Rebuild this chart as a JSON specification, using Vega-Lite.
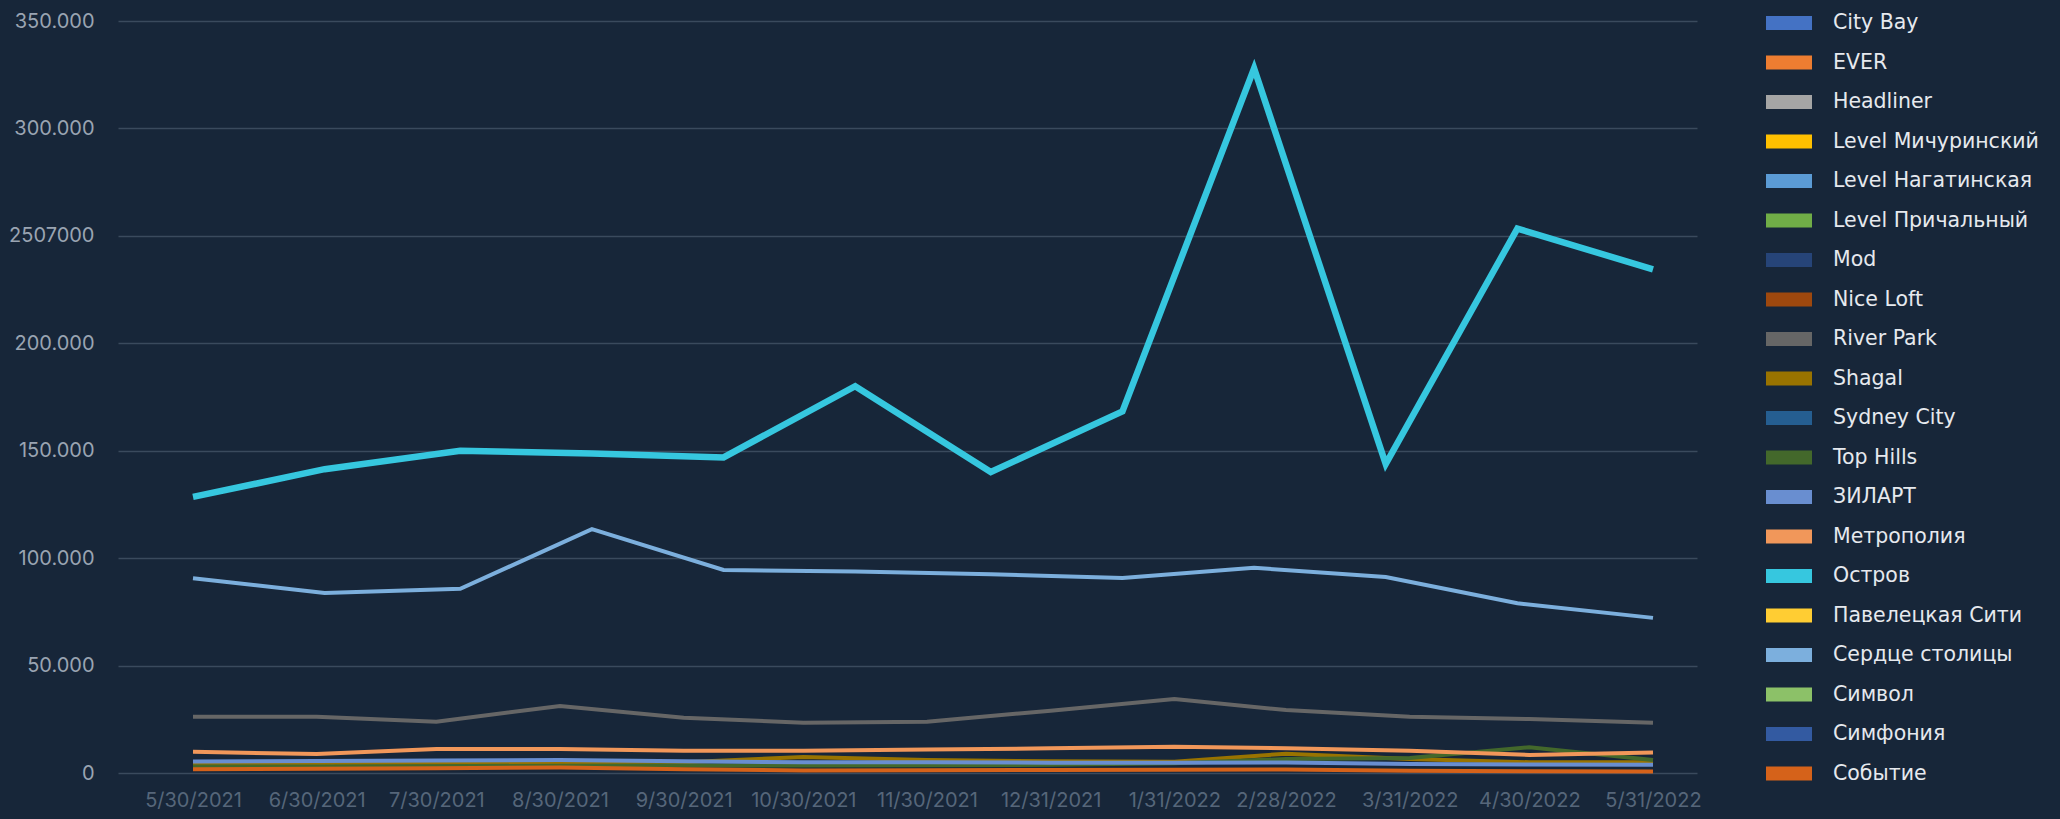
{
  "$schema": "https://vega.github.io/schema/vega-lite/v6.json",
  "autosize": {"type": "none"},
  "width": 1579,
  "height": 752,
  "padding": {"left": 118, "top": 21, "right": 363, "bottom": 46},
  "background": "#172639",
  "config": {
    "view": {"stroke": null},
    "font": "Inter"
  },
  "datasets": {
    "monthly": [
      {"series": "Shagal", "date": "2021-05-30", "value": 4500},
      {"series": "Shagal", "date": "2021-06-30", "value": 4600},
      {"series": "Shagal", "date": "2021-07-30", "value": 4800},
      {"series": "Shagal", "date": "2021-08-30", "value": 5000},
      {"series": "Shagal", "date": "2021-09-30", "value": 5000},
      {"series": "Shagal", "date": "2021-10-30", "value": 7500},
      {"series": "Shagal", "date": "2021-11-30", "value": 6000},
      {"series": "Shagal", "date": "2021-12-31", "value": 5500},
      {"series": "Shagal", "date": "2022-01-31", "value": 5200},
      {"series": "Shagal", "date": "2022-02-28", "value": 9000},
      {"series": "Shagal", "date": "2022-03-31", "value": 6500},
      {"series": "Shagal", "date": "2022-04-30", "value": 5000},
      {"series": "Shagal", "date": "2022-05-31", "value": 5000},
      {"series": "Top Hills", "date": "2021-05-30", "value": 3000},
      {"series": "Top Hills", "date": "2021-06-30", "value": 3000},
      {"series": "Top Hills", "date": "2021-07-30", "value": 3200},
      {"series": "Top Hills", "date": "2021-08-30", "value": 3400},
      {"series": "Top Hills", "date": "2021-09-30", "value": 3500},
      {"series": "Top Hills", "date": "2021-10-30", "value": 3500},
      {"series": "Top Hills", "date": "2021-11-30", "value": 3600},
      {"series": "Top Hills", "date": "2021-12-31", "value": 3800},
      {"series": "Top Hills", "date": "2022-01-31", "value": 4500},
      {"series": "Top Hills", "date": "2022-02-28", "value": 6500},
      {"series": "Top Hills", "date": "2022-03-31", "value": 7000},
      {"series": "Top Hills", "date": "2022-04-30", "value": 12000},
      {"series": "Top Hills", "date": "2022-05-31", "value": 6000},
      {"series": "ЗИЛАРТ", "date": "2021-05-30", "value": 5300},
      {"series": "ЗИЛАРТ", "date": "2021-06-30", "value": 5600},
      {"series": "ЗИЛАРТ", "date": "2021-07-30", "value": 5800},
      {"series": "ЗИЛАРТ", "date": "2021-08-30", "value": 6000},
      {"series": "ЗИЛАРТ", "date": "2021-09-30", "value": 5500},
      {"series": "ЗИЛАРТ", "date": "2021-10-30", "value": 5000},
      {"series": "ЗИЛАРТ", "date": "2021-11-30", "value": 5000},
      {"series": "ЗИЛАРТ", "date": "2021-12-31", "value": 4800},
      {"series": "ЗИЛАРТ", "date": "2022-01-31", "value": 4800},
      {"series": "ЗИЛАРТ", "date": "2022-02-28", "value": 4900},
      {"series": "ЗИЛАРТ", "date": "2022-03-31", "value": 4200},
      {"series": "ЗИЛАРТ", "date": "2022-04-30", "value": 4000},
      {"series": "ЗИЛАРТ", "date": "2022-05-31", "value": 3800},
      {"series": "Событие", "date": "2021-05-30", "value": 1800},
      {"series": "Событие", "date": "2021-06-30", "value": 2000},
      {"series": "Событие", "date": "2021-07-30", "value": 2200},
      {"series": "Событие", "date": "2021-08-30", "value": 2600},
      {"series": "Событие", "date": "2021-09-30", "value": 1800},
      {"series": "Событие", "date": "2021-10-30", "value": 1200},
      {"series": "Событие", "date": "2021-11-30", "value": 1300},
      {"series": "Событие", "date": "2021-12-31", "value": 1400},
      {"series": "Событие", "date": "2022-01-31", "value": 1500},
      {"series": "Событие", "date": "2022-02-28", "value": 1600},
      {"series": "Событие", "date": "2022-03-31", "value": 1000},
      {"series": "Событие", "date": "2022-04-30", "value": 800},
      {"series": "Событие", "date": "2022-05-31", "value": 700},
      {"series": "Метрополия", "date": "2021-05-30", "value": 9900},
      {"series": "Метрополия", "date": "2021-06-30", "value": 8800},
      {"series": "Метрополия", "date": "2021-07-30", "value": 11200},
      {"series": "Метрополия", "date": "2021-08-30", "value": 11200},
      {"series": "Метрополия", "date": "2021-09-30", "value": 10400},
      {"series": "Метрополия", "date": "2021-10-30", "value": 10400},
      {"series": "Метрополия", "date": "2021-11-30", "value": 10900},
      {"series": "Метрополия", "date": "2021-12-31", "value": 11500},
      {"series": "Метрополия", "date": "2022-01-31", "value": 12200},
      {"series": "Метрополия", "date": "2022-02-28", "value": 11500},
      {"series": "Метрополия", "date": "2022-03-31", "value": 10400},
      {"series": "Метрополия", "date": "2022-04-30", "value": 8400},
      {"series": "Метрополия", "date": "2022-05-31", "value": 9500},
      {"series": "River Park", "date": "2021-05-30", "value": 26200},
      {"series": "River Park", "date": "2021-06-30", "value": 26200},
      {"series": "River Park", "date": "2021-07-30", "value": 23900},
      {"series": "River Park", "date": "2021-08-30", "value": 31200},
      {"series": "River Park", "date": "2021-09-30", "value": 25700},
      {"series": "River Park", "date": "2021-10-30", "value": 23400},
      {"series": "River Park", "date": "2021-11-30", "value": 23900},
      {"series": "River Park", "date": "2021-12-31", "value": 29000},
      {"series": "River Park", "date": "2022-01-31", "value": 34400},
      {"series": "River Park", "date": "2022-02-28", "value": 29300},
      {"series": "River Park", "date": "2022-03-31", "value": 26200},
      {"series": "River Park", "date": "2022-04-30", "value": 25100},
      {"series": "River Park", "date": "2022-05-31", "value": 23400},
      {"series": "Сердце столицы", "date": "2021-05-30", "value": 90600},
      {"series": "Сердце столицы", "date": "2021-07-02", "value": 83800},
      {"series": "Сердце столицы", "date": "2021-08-05", "value": 85700},
      {"series": "Сердце столицы", "date": "2021-09-07", "value": 113500},
      {"series": "Сердце столицы", "date": "2021-10-10", "value": 94500},
      {"series": "Сердце столицы", "date": "2021-11-12", "value": 93800},
      {"series": "Сердце столицы", "date": "2021-12-16", "value": 92500},
      {"series": "Сердце столицы", "date": "2022-01-18", "value": 90800},
      {"series": "Сердце столицы", "date": "2022-02-20", "value": 95500},
      {"series": "Сердце столицы", "date": "2022-03-25", "value": 91200},
      {"series": "Сердце столицы", "date": "2022-04-27", "value": 79000},
      {"series": "Сердце столицы", "date": "2022-05-31", "value": 72200},
      {"series": "Остров", "date": "2021-05-30", "value": 128500},
      {"series": "Остров", "date": "2021-07-02", "value": 141400},
      {"series": "Остров", "date": "2021-08-05", "value": 150000},
      {"series": "Остров", "date": "2021-09-07", "value": 148700},
      {"series": "Остров", "date": "2021-10-10", "value": 146900},
      {"series": "Остров", "date": "2021-11-12", "value": 180000},
      {"series": "Остров", "date": "2021-12-16", "value": 140100},
      {"series": "Остров", "date": "2022-01-18", "value": 168300},
      {"series": "Остров", "date": "2022-02-20", "value": 328000},
      {"series": "Остров", "date": "2022-03-25", "value": 143800},
      {"series": "Остров", "date": "2022-04-27", "value": 253400},
      {"series": "Остров", "date": "2022-05-31", "value": 234400}
    ]
  },
  "data": {"name": "monthly"},
  "mark": {"type": "line", "strokeJoin": "miter"},
  "encoding": {
    "x": {
      "field": "date",
      "type": "temporal",
      "scale": {
        "type": "utc",
        "nice": false,
        "domain": [
          {"year": 2021, "month": 5, "date": 11, "hours": 4, "minutes": 48, "utc": true},
          {"year": 2022, "month": 6, "date": 11, "hours": 0, "minutes": 43, "utc": true}
        ]
      },
      "axis": {
        "title": null,
        "grid": false,
        "domain": false,
        "ticks": false,
        "values": [
          {"year": 2021, "month": 5, "date": 30, "utc": true},
          {"year": 2021, "month": 6, "date": 30, "utc": true},
          {"year": 2021, "month": 7, "date": 30, "utc": true},
          {"year": 2021, "month": 8, "date": 30, "utc": true},
          {"year": 2021, "month": 9, "date": 30, "utc": true},
          {"year": 2021, "month": 10, "date": 30, "utc": true},
          {"year": 2021, "month": 11, "date": 30, "utc": true},
          {"year": 2021, "month": 12, "date": 31, "utc": true},
          {"year": 2022, "month": 1, "date": 31, "utc": true},
          {"year": 2022, "month": 2, "date": 28, "utc": true},
          {"year": 2022, "month": 3, "date": 31, "utc": true},
          {"year": 2022, "month": 4, "date": 30, "utc": true},
          {"year": 2022, "month": 5, "date": 31, "utc": true}
        ],
        "labelExpr": "utcFormat(datum.value, '%-m/%-d/%Y')",
        "labelFont": "Inter",
        "labelFontSize": 20,
        "labelColor": "#56667a",
        "labelPadding": 17,
        "labelOverlap": false,
        "labelFlush": false
      }
    },
    "y": {
      "field": "value",
      "type": "quantitative",
      "scale": {"domain": [0, 350000], "nice": false},
      "axis": {
        "title": null,
        "domain": false,
        "ticks": false,
        "values": [0, 50000, 100000, 150000, 200000, 250000, 300000, 350000],
        "labelExpr": "datum.value == 250000 ? '2507000' : (datum.value == 0 ? '0' : replace(format(datum.value, ','), ',', '.'))",
        "labelFont": "Inter",
        "labelFontSize": 20,
        "labelColor": "#9aa4b2",
        "labelPadding": 24,
        "gridColor": "#3a4a5d",
        "gridWidth": 1.5
      }
    },
    "color": {
      "field": "series",
      "type": "nominal",
      "scale": {
        "domain": ["City Bay", "EVER", "Headliner", "Level Мичуринский", "Level Нагатинская", "Level Причальный", "Mod", "Nice Loft", "River Park", "Shagal", "Sydney City", "Top Hills", "ЗИЛАРТ", "Метрополия", "Остров", "Павелецкая Сити", "Сердце столицы", "Символ", "Симфония", "Событие"],
        "range": ["#4472C4", "#ED7D31", "#A5A5A5", "#FFC000", "#5B9BD5", "#70AD47", "#264478", "#9E480E", "#666666", "#997300", "#255E91", "#43682B", "#698ED0", "#F1975A", "#36C7DF", "#FFCD33", "#7CAFDD", "#8CC168", "#335AA1", "#D5621A"]
      },
      "legend": {
        "title": null,
        "orient": "none",
        "legendX": 1659.5,
        "legendY": -9.5,
        "padding": 0,
        "symbolType": "M-2,-0.6H2V0.6H-2Z",
        "symbolSize": 529,
        "symbolStrokeWidth": 0,
        "symbolOpacity": 1,
        "labelOffset": 32.5,
        "rowPadding": 17.5,
        "labelFont": "DejaVu Sans",
        "labelFontSize": 20.5,
        "labelColor": "#e6e9ee",
        "labelLimit": 400,
        "encode": {
          "symbols": {
            "update": {
              "fill": {"scale": "color", "field": "value"},
              "fillOpacity": {"value": 1},
              "strokeWidth": {"value": 0}
            }
          }
        }
      }
    },
    "strokeWidth": {
      "condition": {"test": "datum.series === 'Остров'", "value": 6.5},
      "value": 4
    }
  }
}
